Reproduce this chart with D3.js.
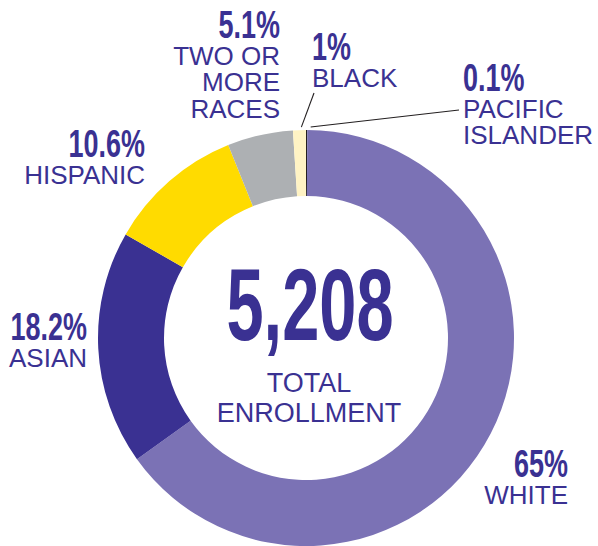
<!DOCTYPE html>
<html><head><meta charset="utf-8">
<script src="https://cdn.jsdelivr.net/npm/d3@7"></script>
<style>body{margin:0;background:#fff}svg{display:block}</style>
</head><body>
<svg id="c" width="598" height="546"></svg>
<script>
const categories = ["PACIFIC ISLANDER","WHITE","ASIAN","HISPANIC","TWO OR MORE RACES","BLACK"];
const values = [0.1, 65, 18.2, 10.6, 5.1, 1];
const pctLabels = ["0.1%","65%","18.2%","10.6%","5.1%","1%"];
const nameLines = [["PACIFIC","ISLANDER"],["WHITE"],["ASIAN"],["HISPANIC"],["TWO OR","MORE","RACES"],["BLACK"]];
const colors = ["#231F20","#7B72B5","#3A3192","#FFDB00","#ADB0B3","#FFF3C4"];
const totalLabel = "5,208";
const totalCaption = ["TOTAL","ENROLLMENT"];

const textColor = "#3A3192";
const svg = d3.select("#c");
const cx = 306, cy = 338, rOuter = 208, rInner = 142;
const g = svg.append("g").attr("transform", `translate(${cx},${cy})`);

const pie = d3.pie().sort(null).value(d => d).startAngle(0).endAngle(2*Math.PI);
const arcs = pie(values);
const arc = d3.arc().innerRadius(rInner).outerRadius(rOuter);

g.selectAll("path").data(arcs).join("path")
  .attr("d", arc).attr("fill", (d,i) => colors[i]);

const labelPos = [
  {x:463, y:91, anchor:"start"},
  {x:568, y:477, anchor:"end"},
  {x:87, y:340, anchor:"end"},
  {x:145, y:157, anchor:"end"},
  {x:280, y:38, anchor:"end"},
  {x:312, y:60, anchor:"start"}
];
const pctSize = 38, pctScale = 0.71, nameSize = 26, lineGap = 26.5;

labelPos.forEach((p, i) => {
  svg.append("g").attr("transform", `translate(${p.x},${p.y}) scale(${pctScale},1)`)
    .append("text").attr("text-anchor", p.anchor)
    .attr("font-family", "'Liberation Sans', Arial, sans-serif").attr("font-weight", "bold")
    .attr("font-size", pctSize).attr("fill", textColor).text(pctLabels[i]);
  const t = svg.append("text").attr("text-anchor", p.anchor)
    .attr("font-family", "'Liberation Sans', Arial, sans-serif")
    .attr("font-size", nameSize).attr("fill", textColor);
  nameLines[i].forEach((ln, j) => {
    t.append("tspan").attr("x", p.x).attr("y", p.y + 26.5 + j*lineGap).text(ln);
  });
});

const lineArc = d3.arc().innerRadius(rOuter + 3).outerRadius(rOuter + 3);
const leaders = [{i:0, to:[459, 110], dx:4}, {i:5, to:[314, 93], dx:2}];
leaders.forEach(l => {
  const c = lineArc.centroid(arcs[l.i]);
  svg.append("line").attr("x1", cx + c[0] + l.dx).attr("y1", cy + c[1])
    .attr("x2", l.to[0]).attr("y2", l.to[1])
    .attr("stroke", "#231F20").attr("stroke-width", 1.1);
});

svg.append("g").attr("transform", `translate(310,340) scale(0.655,1)`)
  .append("text").attr("text-anchor", "middle")
  .attr("font-family", "'Liberation Sans', Arial, sans-serif").attr("font-weight", "bold")
  .attr("font-size", 102).attr("fill", textColor).text(totalLabel);
const ct = svg.append("text").attr("text-anchor", "middle")
  .attr("font-family", "'Liberation Sans', Arial, sans-serif")
  .attr("font-size", 27).attr("fill", textColor);
totalCaption.forEach((t, j) => {
  ct.append("tspan").attr("x", 309).attr("y", 392 + j*30).text(t);
});
</script>
</body></html>
